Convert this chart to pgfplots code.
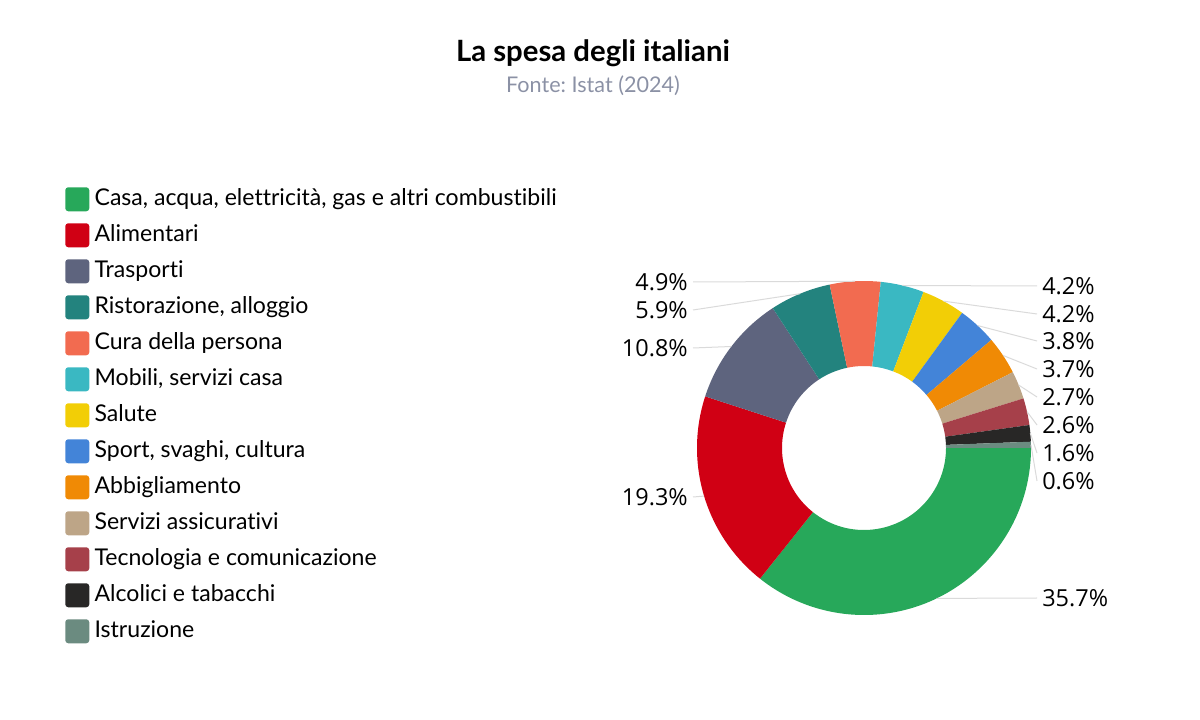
\documentclass[border=0pt]{standalone}
\usepackage{fontspec}
\setmainfont{Lato}[Ligatures=NoCommon]
\newfontfamily\labfont{Open Sans}
\usepackage{pgfplots}
\usepackage{pgfplotstable}
\pgfplotsset{compat=1.18}
\frenchspacing

\definecolor{c0}{HTML}{27A85A}
\definecolor{c1}{HTML}{D00014}
\definecolor{c2}{HTML}{5E647E}
\definecolor{c3}{HTML}{23837E}
\definecolor{c4}{HTML}{F26B50}
\definecolor{c5}{HTML}{3AB8C2}
\definecolor{c6}{HTML}{F2CE06}
\definecolor{c7}{HTML}{4384D8}
\definecolor{c8}{HTML}{F08A05}
\definecolor{c9}{HTML}{BDA587}
\definecolor{c10}{HTML}{A6404A}
\definecolor{c11}{HTML}{282726}
\definecolor{c12}{HTML}{6B8B80}
\definecolor{subgray}{HTML}{8B91A5}
\definecolor{conngray}{HTML}{DADADA}

% share (%), label row (px from top), side (1 right, -1 left)
\pgfplotstableread{
val ly side
35.7 598 1
19.3 497 -1
10.8 348 -1
5.9 310 -1
4.9 282 -1
4.2 286 1
4.2 314 1
3.8 341 1
3.7 369 1
2.7 397 1
2.6 425 1
1.6 453 1
0.6 481 1
}\spesa
\pgfplotstablecreatecol[create col/expr accum={\pgfmathaccuma + \thisrow{val}}{0}]{cum}\spesa

\def\Ro{125.25bp}
\def\Ri{61.5bp}

\begin{document}
\begin{tikzpicture}[
  lab/.style={font=\labfont\fontsize{17.6bp}{21bp}\selectfont, inner sep=0pt, text=black},
  conn/.style={draw=conngray, line width=0.75bp},
]
\useasboundingbox (0,0) rectangle (900bp,540bp);
\begin{axis}[
  at={(0,0)}, anchor=south west, scale only axis,
  width=900bp, height=540bp,
  xmin=0, xmax=1200, ymin=0, ymax=720,
  hide axis, clip=false,
  legend image code/.code={\fill[#1, rounded corners=2.25bp] (0bp,-10bp) rectangle (18bp,8bp);},
  legend cell align=left,
  legend style={
    at={(axis cs:65,533)}, anchor=north west,
    draw=none, fill=none, inner sep=0pt, row sep=9bp,
    font=\fontsize{17.3bp}{20bp}\selectfont,
    nodes={inner sep=0pt},
    /tikz/every odd column/.append style={column sep=4bp},
  },
]
\addlegendimage{fill=c0, draw=none}\addlegendentry{Casa, acqua, elettricità, gas e altri combustibili}
\addlegendimage{fill=c1, draw=none}\addlegendentry{Alimentari}
\addlegendimage{fill=c2, draw=none}\addlegendentry{Trasporti}
\addlegendimage{fill=c3, draw=none}\addlegendentry{Ristorazione, alloggio}
\addlegendimage{fill=c4, draw=none}\addlegendentry{Cura della persona}
\addlegendimage{fill=c5, draw=none}\addlegendentry{Mobili, servizi casa}
\addlegendimage{fill=c6, draw=none}\addlegendentry{Salute}
\addlegendimage{fill=c7, draw=none}\addlegendentry{Sport, svaghi, cultura}
\addlegendimage{fill=c8, draw=none}\addlegendentry{Abbigliamento}
\addlegendimage{fill=c9, draw=none}\addlegendentry{Servizi assicurativi}
\addlegendimage{fill=c10, draw=none}\addlegendentry{Tecnologia e comunicazione}
\addlegendimage{fill=c11, draw=none}\addlegendentry{Alcolici e tabacchi}
\addlegendimage{fill=c12, draw=none}\addlegendentry{Istruzione}

% donut slices, clockwise from 3 o'clock
\pgfplotsinvokeforeach{0,...,12}{
  \pgfplotstablegetelem{#1}{val}\of\spesa \let\v\pgfplotsretval
  \pgfplotstablegetelem{#1}{cum}\of\spesa \let\c\pgfplotsretval
  \pgfplotstablegetelem{#1}{ly}\of\spesa \let\lyy\pgfplotsretval
  \pgfplotstablegetelem{#1}{side}\of\spesa \let\s\pgfplotsretval
  \pgfmathsetmacro\a{-3.6*(\c-\v)}
  \pgfmathsetmacro\b{-3.6*\c}
  \pgfmathsetmacro\m{(\a+\b)/2}
  \pgfmathsetmacro\ly{720-\lyy}
  \ifdim\s pt>0pt
    \def\lx{1037}\def\tx{1042}\def\anc{west}
  \else
    \def\lx{693}\def\tx{688}\def\anc{east}
  \fi
  \edef\temp{%
    \noexpand\fill[c#1] ([shift={(\a:\Ro)}]axis cs:864,272)
      arc[start angle=\a, end angle=\b, radius=\Ro]
      -- ([shift={(\b:\Ri)}]axis cs:864,272)
      arc[start angle=\b, end angle=\a, radius=\Ri] -- cycle;
    \noexpand\draw[conn] ([shift={(\m:\Ro)}]axis cs:864,272) -- (axis cs:\lx,\ly);
    \noexpand\node[lab, anchor=\anc] at (axis cs:\tx,\ly) {\v\noexpand\%};
  }
  \temp
}

\node[anchor=base, font=\bfseries\fontsize{22bp}{26bp}\selectfont] at (axis cs:593,658) {La spesa degli italiani};
\node[anchor=base, text=subgray, font=\fontsize{16.2bp}{19bp}\selectfont] at (axis cs:593,627) {Fonte: Istat (2024)};
\end{axis}
\end{tikzpicture}
\end{document}
